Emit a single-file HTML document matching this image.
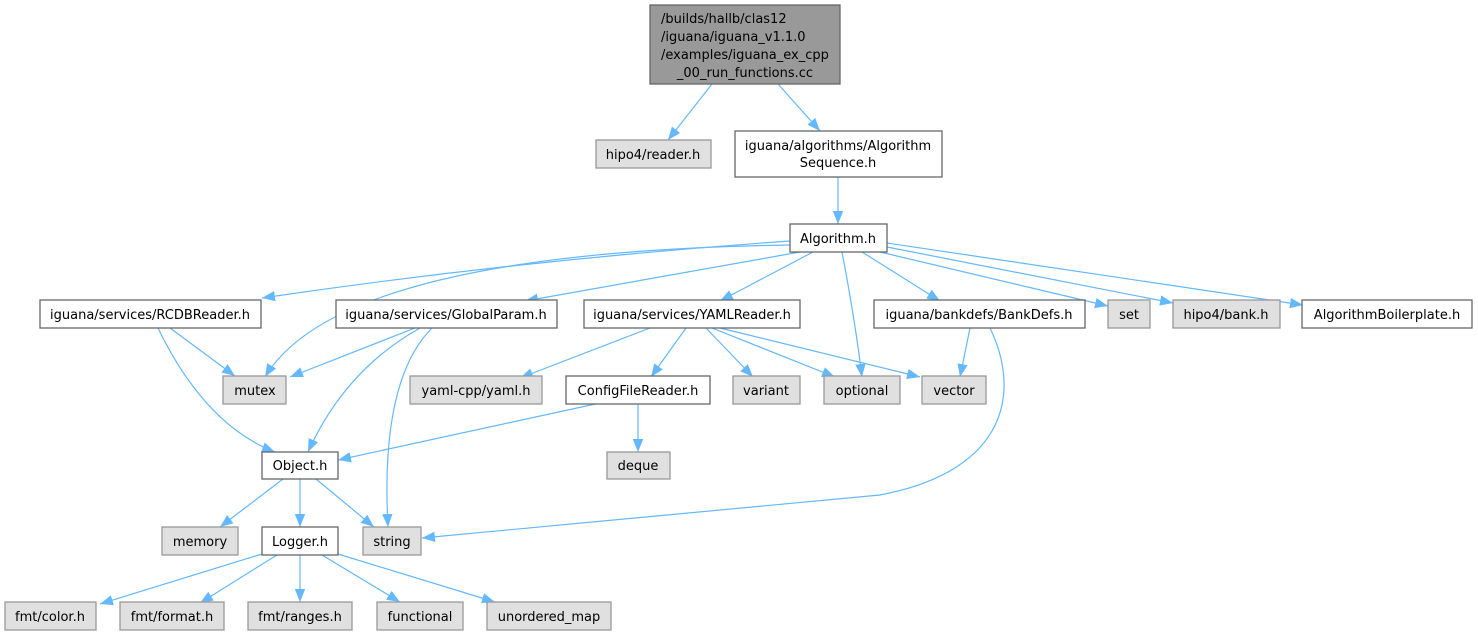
<!DOCTYPE html>
<html><head><meta charset="utf-8"><style>
html,body{margin:0;padding:0;background:#fff;}
svg{display:block;}
text{font-family:"DejaVu Sans","Liberation Sans",sans-serif;font-size:13px;fill:#000;}
.w{fill:#fff;stroke:#666;stroke-width:1.3;}
.g{fill:#e0e0e0;stroke:#999;stroke-width:1.3;}
.e{fill:none;stroke:#63b8ff;stroke-width:1.2;marker-end:url(#a);}
</style></head><body>
<svg width="1478" height="636" viewBox="0 0 1478 636" xmlns="http://www.w3.org/2000/svg">
<defs><marker id="a" viewBox="0 0 10 10" refX="10" refY="5" markerWidth="13" markerHeight="13" markerUnits="userSpaceOnUse" orient="auto"><path d="M0,1 L10,5 L0,9 z" fill="#63b8ff"/></marker></defs>
<path class="e" d="M712,84 L668,140"/>
<path class="e" d="M778,84 L820,131"/>
<path class="e" d="M838,177 L838,224"/>
<path class="e" d="M790,241 Q520,260 262,298"/>
<path class="e" d="M790,245 Q340,252 265,377"/>
<path class="e" d="M800,252 L525,301"/>
<path class="e" d="M813,252 L720,301"/>
<path class="e" d="M842,252 Q855,320 862,377"/>
<path class="e" d="M862,252 L940,301"/>
<path class="e" d="M880,252 L1108,306"/>
<path class="e" d="M887,247 L1173,303"/>
<path class="e" d="M887,243 L1303,305"/>
<path class="e" d="M170,328 L235,376"/>
<path class="e" d="M158,328 Q205,425 275,452"/>
<path class="e" d="M415,328 L290,377"/>
<path class="e" d="M420,328 Q345,370 308,452"/>
<path class="e" d="M432,328 Q380,380 388,527"/>
<path class="e" d="M650,328 L520,378"/>
<path class="e" d="M686,328 L651,377"/>
<path class="e" d="M706,328 L753,377"/>
<path class="e" d="M712,328 L835,377"/>
<path class="e" d="M720,328 L920,377"/>
<path class="e" d="M970,328 L960,377"/>
<path class="e" d="M990,328 C1020,390 1010,470 880,495 L422,538"/>
<path class="e" d="M600,403 L338,460"/>
<path class="e" d="M638,403 L638,452"/>
<path class="e" d="M283,479 L220,527"/>
<path class="e" d="M300,479 L300,527"/>
<path class="e" d="M316,479 L374,527"/>
<path class="e" d="M262,554 L100,604"/>
<path class="e" d="M277,555 L200,603"/>
<path class="e" d="M300,555 L300,602"/>
<path class="e" d="M322,555 L400,602"/>
<path class="e" d="M338,554 L495,602"/>
<rect x="650" y="5" width="190" height="79" fill="#999" stroke="#666" stroke-width="1.3"/>
<text x="661" y="23">/builds/hallb/clas12</text>
<text x="661" y="41">/iguana/iguana_v1.1.0</text>
<text x="661" y="59">/examples/iguana_ex_cpp</text>
<text x="745" y="77" text-anchor="middle">_00_run_functions.cc</text>
<rect class="g" x="596" y="140" width="115" height="28"/><text x="653" y="159" text-anchor="middle">hipo4/reader.h</text>
<rect class="w" x="735" y="131" width="207" height="46"/><text x="838" y="150" text-anchor="middle">iguana/algorithms/Algorithm</text><text x="838" y="167" text-anchor="middle">Sequence.h</text>
<rect class="w" x="790" y="224" width="97" height="28"/><text x="838" y="243" text-anchor="middle">Algorithm.h</text>
<rect class="w" x="40" y="300" width="221" height="28"/><text x="150" y="319" text-anchor="middle">iguana/services/RCDBReader.h</text>
<rect class="w" x="336" y="300" width="221" height="28"/><text x="446" y="319" text-anchor="middle">iguana/services/GlobalParam.h</text>
<rect class="w" x="584" y="300" width="216" height="28"/><text x="692" y="319" text-anchor="middle">iguana/services/YAMLReader.h</text>
<rect class="w" x="874" y="300" width="211" height="28"/><text x="979" y="319" text-anchor="middle">iguana/bankdefs/BankDefs.h</text>
<rect class="g" x="1108" y="300" width="42" height="28"/><text x="1129" y="319" text-anchor="middle">set</text>
<rect class="g" x="1173" y="300" width="107" height="28"/><text x="1226" y="319" text-anchor="middle">hipo4/bank.h</text>
<rect class="w" x="1302" y="300" width="170" height="28"/><text x="1387" y="319" text-anchor="middle">AlgorithmBoilerplate.h</text>
<rect class="g" x="223" y="376" width="63" height="28"/><text x="255" y="395" text-anchor="middle">mutex</text>
<rect class="g" x="410" y="376" width="132" height="28"/><text x="476" y="395" text-anchor="middle">yaml-cpp/yaml.h</text>
<rect class="w" x="566" y="376" width="144" height="28"/><text x="638" y="395" text-anchor="middle">ConfigFileReader.h</text>
<rect class="g" x="733" y="376" width="67" height="28"/><text x="766" y="395" text-anchor="middle">variant</text>
<rect class="g" x="824" y="376" width="76" height="28"/><text x="862" y="395" text-anchor="middle">optional</text>
<rect class="g" x="922" y="376" width="64" height="28"/><text x="954" y="395" text-anchor="middle">vector</text>
<rect class="w" x="262" y="452" width="76" height="27"/><text x="300" y="470" text-anchor="middle">Object.h</text>
<rect class="g" x="607" y="452" width="63" height="27"/><text x="638" y="470" text-anchor="middle">deque</text>
<rect class="g" x="162" y="527" width="76" height="28"/><text x="200" y="546" text-anchor="middle">memory</text>
<rect class="w" x="262" y="527" width="76" height="28"/><text x="300" y="546" text-anchor="middle">Logger.h</text>
<rect class="g" x="363" y="527" width="58" height="28"/><text x="392" y="546" text-anchor="middle">string</text>
<rect class="g" x="5" y="602" width="91" height="28"/><text x="50" y="621" text-anchor="middle">fmt/color.h</text>
<rect class="g" x="120" y="602" width="104" height="28"/><text x="172" y="621" text-anchor="middle">fmt/format.h</text>
<rect class="g" x="248" y="602" width="104" height="28"/><text x="300" y="621" text-anchor="middle">fmt/ranges.h</text>
<rect class="g" x="377" y="602" width="86" height="28"/><text x="420" y="621" text-anchor="middle">functional</text>
<rect class="g" x="487" y="602" width="124" height="28"/><text x="549" y="621" text-anchor="middle">unordered_map</text>
</svg>
</body></html>
